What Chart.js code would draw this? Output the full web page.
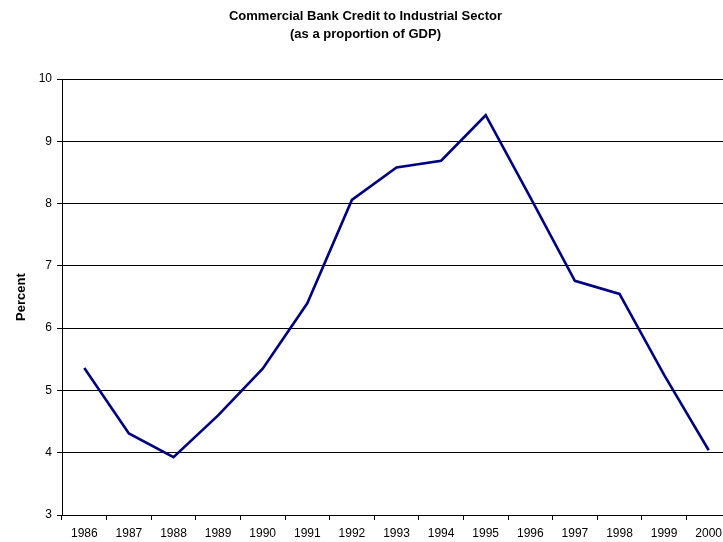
<!DOCTYPE html>
<html lang="en">
<head>
  <meta charset="UTF-8">
  <title>Commercial Bank Credit to Industrial Sector</title>
  <script src="https://cdn.jsdelivr.net/npm/chart.js"></script>
  <style>
    html, body { margin: 0; padding: 0; background: #fff; overflow: hidden; }
    #wrap { width: 740px; height: 542px; }
  </style>
</head>
<body>

<div id="wrap">
  <canvas id="creditChart" width="740" height="542"></canvas>
</div>

<script>
  const years = ['1986', '1987', '1988', '1989', '1990', '1991', '1992', '1993',
                 '1994', '1995', '1996', '1997', '1998', '1999', '2000'];
  const creditPct = [5.36, 4.31, 3.93, 4.6, 5.35, 6.40, 8.06, 8.58,
                     8.69, 9.42, 8.10, 6.76, 6.55, 5.25, 4.04];
  const yMin = 3, yMax = 10, yStep = 1;

  Chart.defaults.font.family = '"Liberation Sans", Arial, sans-serif';
  Chart.defaults.color = '#000';

  const ctx = document.getElementById('creditChart').getContext('2d');
  new Chart(ctx, {
    type: 'line',
    data: {
      labels: years,
      datasets: [{
        label: 'Credit',
        data: creditPct,
        borderColor: '#000080',
        borderWidth: 2.6,
        pointRadius: 0,
        tension: 0,
        fill: false
      }]
    },
    options: {
      responsive: false,
      animation: false,
      layout: { padding: { left: 0, right: 9, top: 0, bottom: 0 } },
      plugins: {
        legend: { display: false },
        tooltip: { enabled: false },
        title: {
          display: true,
          text: ['Commercial Bank Credit to Industrial Sector', '(as a proportion of GDP)'],
          font: { size: 13, weight: 'bold', lineHeight: 1.35 },
          color: '#000',
          padding: { top: 8, bottom: 36 }
        }
      },
      scales: {
        x: {
          offset: true,
          grid: {
            offset: true,
            drawOnChartArea: false,
            drawTicks: true,
            tickLength: 5,
            color: '#000'
          },
          border: { color: '#000', width: 1 },
          ticks: { font: { size: 12 }, padding: 6, maxRotation: 0, autoSkip: false },
          afterFit: function (scale) { scale.height = 27; }
        },
        y: {
          min: yMin,
          max: yMax,
          ticks: { stepSize: yStep, font: { size: 12 }, padding: 5 },
          grid: { color: '#000', lineWidth: 1, tickLength: 5 },
          border: { color: '#000', width: 1 },
          title: {
            display: true,
            text: 'Percent',
            font: { size: 13, weight: 'bold' },
            padding: { top: 14, bottom: 0 }
          },
          afterFit: function (scale) { scale.width = 62; }
        }
      }
    }
  });
</script>
</body>
</html>
